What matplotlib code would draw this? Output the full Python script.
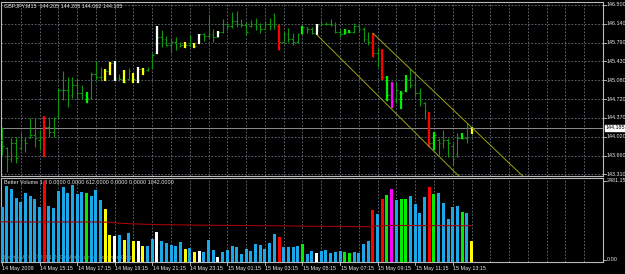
import numpy as np
import matplotlib.pyplot as plt

W, H = 625, 274
BAR_DX = 4.695   # pixels between bars
X0 = 2.0         # pixel x of the first bar

# ---- data (GBPJPY M15, 14 May 13:15 .. 15 May 14:15) ----
highs = [144.207, 143.831, 143.988, 144.019, 144.082, 144.019, 144.364, 144.364, 144.145, 144.408,
         144.396, 144.396, 144.930, 145.263, 145.137, 145.150, 145.099, 144.993, 144.867, 145.244,
         145.445, 145.338, 145.294, 145.432, 145.445, 145.200, 145.269, 145.307, 145.225, 145.338,
         145.307, 145.338, 145.589, 146.104, 146.029, 145.916, 145.872, 145.891, 145.809, 145.797,
         145.935, 145.778, 145.954, 145.966, 146.293, 146.041, 146.010, 146.236, 146.155, 146.374,
         146.393, 146.230, 146.186, 146.217, 146.249, 146.167, 146.205, 146.249, 146.356, 146.123,
         145.998, 146.060, 145.966, 145.979, 146.104, 146.092, 146.079, 146.142, 146.217, 146.186,
         146.236, 146.186, 146.041, 146.041, 146.029, 146.167, 146.111, 146.092, 145.998, 145.979,
         145.715, 145.671, 145.162, 145.055, 145.055, 144.886, 145.181, 145.288, 145.200, 144.930,
         144.679, 144.490, 144.113, 143.988, 144.145, 143.988, 143.906, 144.082, 144.094, 144.283,
         144.205]
lows = [143.674, 143.359, 143.548, 143.516, 143.768, 143.736, 143.988, 143.831, 143.768, 143.642,
        144.019, 144.019, 144.364, 144.710, 144.584, 144.741, 144.723, 144.723, 144.647, 144.723,
        145.087, 145.074, 145.074, 145.181, 145.074, 145.068, 145.024, 145.087, 145.037, 145.024,
        145.181, 145.263, 145.307, 145.570, 145.715, 145.727, 145.589, 145.652, 145.715, 145.696,
        145.702, 145.683, 145.759, 145.828, 145.872, 145.809, 145.891, 145.966, 146.029, 146.060,
        146.092, 146.092, 145.935, 146.092, 146.029, 145.966, 146.041, 146.029, 146.041, 145.652,
        145.778, 145.809, 145.746, 145.778, 145.947, 145.966, 145.947, 145.935, 146.104, 146.123,
        146.104, 145.966, 145.903, 145.954, 145.966, 145.966, 145.998, 145.809, 145.746, 145.526,
        145.338, 145.087, 144.697, 144.553, 144.647, 144.534, 144.867, 144.930, 144.773, 144.597,
        144.346, 143.831, 143.768, 143.674, 143.799, 143.642, 143.485, 143.642, 143.969, 143.893,
        144.062]
opens = [143.95, 143.80, 143.60, 143.90, 143.80, 143.95, 144.00, 144.05, 143.95, 144.00,
         144.20, 144.10, 144.40, 144.90, 144.90, 144.80, 145.00, 144.85, 144.80, 144.75,
         145.20, 145.15, 145.15, 145.25, 145.40, 145.12, 145.10, 145.10, 145.20, 145.10,
         145.30, 145.28, 145.32, 145.60, 145.90, 145.85, 145.75, 145.80, 145.72, 145.75,
         145.75, 145.75, 145.78, 145.95, 145.92, 145.95, 145.90, 146.00, 146.15, 146.10,
         146.20, 146.15, 146.13, 146.10, 146.15, 146.10, 146.05, 146.15, 146.10, 146.10,
         145.80, 145.95, 145.85, 145.80, 145.96, 146.08, 146.05, 145.98, 146.12, 146.15,
         146.15, 146.12, 146.00, 145.96, 146.00, 146.00, 146.10, 146.05, 145.85, 145.80,
         145.60, 145.65, 145.15, 144.80, 144.70, 144.85, 144.90, 145.10, 145.00, 144.85,
         144.65, 144.45, 143.90, 143.95, 143.90, 143.95, 143.85, 143.70, 144.00, 144.00,
         144.205]
closes = [143.85, 143.60, 143.90, 143.62, 143.95, 143.90, 144.05, 144.00, 144.00, 144.20,
          144.10, 144.35, 144.90, 144.90, 144.80, 145.00, 144.85, 144.80, 144.75, 145.20,
          145.15, 145.15, 145.25, 145.40, 145.10, 145.10, 145.05, 145.25, 145.10, 145.30,
          145.25, 145.30, 145.55, 145.90, 145.85, 145.75, 145.80, 145.70, 145.75, 145.75,
          145.90, 145.72, 145.95, 145.92, 145.95, 145.90, 146.00, 146.15, 146.10, 146.20,
          146.15, 146.13, 146.00, 146.15, 146.10, 146.05, 146.15, 146.10, 146.15, 145.80,
          145.95, 145.85, 145.80, 145.95, 146.08, 146.05, 145.98, 146.10, 146.15, 146.15,
          146.12, 146.00, 145.95, 146.00, 146.00, 146.10, 146.05, 145.85, 145.80, 145.60,
          145.65, 145.15, 144.80, 144.70, 144.90, 144.85, 145.10, 145.00, 144.85, 144.70,
          144.50, 143.90, 144.05, 143.90, 143.95, 143.90, 143.60, 144.00, 144.00, 144.20,
          144.185]
volumes = [1624, 2222, 2153, 1893, 1773, 2024, 1952, 1854, 1606, 2392,
           1645, 1576, 2093, 2192, 2024, 2251, 2003, 2054, 2024, 1952,
           2123, 1824, 1546, 798, 777, 798, 658, 858, 628, 628,
           457, 457, 679, 876, 628, 559, 499, 478, 598, 380,
           398, 299, 329, 299, 658, 359, 158, 299, 359, 478,
           428, 230, 380, 329, 529, 508, 380, 559, 828, 748,
           428, 428, 428, 478, 529, 230, 329, 260, 329, 359,
           278, 299, 329, 299, 278, 299, 278, 529, 628, 1525,
           1396, 1854, 1973, 2153, 1824, 1854, 1854, 1952, 1695, 1444,
           1923, 2192, 1994, 2024, 1743, 1256, 1606, 1653, 1465, 1444,
           612]
vol_ma = [1180, 1180, 1178, 1178, 1177, 1177, 1176, 1176, 1175, 1178,
          1177, 1176, 1176, 1177, 1176, 1177, 1176, 1176, 1176, 1175,
          1175, 1174, 1172, 1160, 1150, 1140, 1132, 1126, 1120, 1115,
          1110, 1106, 1103, 1100, 1098, 1096, 1094, 1092, 1090, 1088,
          1086, 1084, 1082, 1080, 1079, 1078, 1076, 1075, 1074, 1073,
          1072, 1071, 1070, 1069, 1068, 1067, 1066, 1065, 1064, 1062,
          1060, 1058, 1056, 1054, 1052, 1050, 1049, 1048, 1047, 1046,
          1045, 1044, 1043, 1042, 1041, 1040, 1039, 1038, 1037, 1050,
          1060, 1066, 1070, 1072, 1072, 1072, 1071, 1071, 1070, 1070,
          1069, 1069, 1068, 1068, 1067, 1067, 1066, 1066, 1065, 1065,
          1064]
# n normal, r climax, w climax low, y low volume, g churn, m climax churn
bar_class = ("nnnnnnnnn" "r" "nnnnnnnn" "g" "nnn" "yywnynywynnw" "nnnnn" "ynyw" "nnn" "w"
             "nnnnnnnnnnnn" "r" "nnnn" "g" "nn" "w" "nnnnn" "gg" "nnnn" "rnrgmngg" "nnnn"
             "rg" "nnnnn" "gny")

time_label_bars = [0, 8, 16, 24, 32, 40, 48, 56, 64, 72, 80, 88, 96]
time_labels = ["14 May 2009", "14 May 15:15", "14 May 17:15", "14 May 19:15", "14 May 21:15",
               "14 May 23:15", "15 May 01:15", "15 May 03:15", "15 May 05:15", "15 May 07:15",
               "15 May 09:15", "15 May 11:15", "15 May 13:15"]
price_levels = [143.310, 143.664, 144.019, 144.373, 144.728, 145.082, 145.436, 145.791, 146.145, 146.500]
price_labels = ["143.310", "143.660", "144.020", "144.370", "144.720", "145.080", "145.430",
                "145.790", "146.140", "146.500"]
last_price = 144.185
# channel lines: (start bar, start price, price change per bar)
channel = [(67.1, 145.935, -0.0880), (79.0, 145.967, -0.0843)]

vol_top_label = "2481.15"
vol_bottom_label = "0.00"
title = "GBPJPY,M15  144.205 144.205 144.062 144.185"
ind_title = "Better Volume 1.3 0.0000 0.0000 612.0000 0.0000 0.0000 1042.0000"
copyright_txt = "FxPro MT4, \u00a9 2001-2009 MetaQuotes Software Corp."

colors = {'n': '#1ba8e8', 'r': '#ff0000', 'w': '#ffffff', 'y': '#ffff00', 'g': '#00ee00', 'm': '#ff00ff'}
BAR_GREEN = '#0e960e'
GRID = '#6a747e'
FONT = 'Liberation Sans'
FS = 3.9

plt.rcParams['font.family'] = FONT

fig = plt.figure(figsize=(W / 100, H / 100), dpi=100, facecolor='black')


def px_axes(left, top, right, bottom):
    ax = fig.add_axes([left / W, 1 - bottom / H, (right - left) / W, (bottom - top) / H])
    ax.set_facecolor('black')
    ax.set_xticks([])
    ax.set_yticks([])
    for s in ax.spines.values():
        s.set_color('#b8b8b8')
        s.set_linewidth(0.8)
    return ax


def fx(px):
    return px / W


def fy(py):
    return 1 - py / H


n = len(highs)
x = np.arange(n)
xlim = ((1 - X0) / BAR_DX, (603 - X0) / BAR_DX)

# ---------------- main price panel ----------------
ax = px_axes(1, 2, 603, 176)
ax.set_xlim(*xlim)
ax.set_ylim(146.5 - 171 / 53.07, 146.5 + 3 / 53.07)

for gx in np.arange(4, 129, 4):
    ax.axvline(gx, color=GRID, lw=0.6, ls=(0, (2, 2)), zorder=1)
for lv in price_levels:
    ax.axhline(lv, color=GRID, lw=0.6, ls=(0, (2, 2)), zorder=1)
ax.axhline(last_price, color='#8c8c8c', lw=0.7, zorder=2)

ax.vlines(x, lows, highs, color=BAR_GREEN, lw=0.8, zorder=3)
ax.hlines(opens, x - 0.35, x, color=BAR_GREEN, lw=0.8, zorder=3)
ax.hlines(closes, x, x + 0.35, color=BAR_GREEN, lw=0.8, zorder=3)
for i, c in enumerate(bar_class):
    if c != 'n':
        ax.vlines(i, lows[i], highs[i], color=colors[c], lw=1.6, zorder=4)

for b0, p0, slope in channel:
    xs = np.array([b0, 135])
    ax.plot(xs, p0 + slope * (xs - b0), color='#a0a018', lw=0.7, zorder=5)

ax.text(3 / 602, 1 - 4 / 174, title, transform=ax.transAxes, color='#e8e8e8',
        fontsize=FS, va='center', ha='left', zorder=2)

for lv, lab in zip(price_levels, price_labels):
    yy = 5 + (146.5 - lv) * 53.07
    fig.add_artist(plt.Line2D([fx(603), fx(605.5)], [fy(yy), fy(yy)], color='#c8c8c8', lw=0.6))
    fig.text(fx(606.5), fy(yy), lab, color='#e8e8e8', fontsize=FS, va='center', ha='left')
yy = 5 + (146.5 - last_price) * 53.07
fig.text(fx(606), fy(yy), f"{last_price:.3f}", color='black', fontsize=FS, va='center', ha='left',
         bbox=dict(boxstyle='square,pad=0.15', fc='white', ec='white'))

# ---------------- volume panel ----------------
av = px_axes(1, 177.5, 603, 262)
av.set_xlim(*xlim)
av.set_ylim(0, 2481)
for gx in np.arange(4, 129, 4):
    av.axvline(gx, color=GRID, lw=0.6, ls=(0, (2, 2)), zorder=1)
av.bar(x, volumes, width=0.64, color=[colors[c] for c in bar_class], zorder=3)
av.plot(x, vol_ma, color='#a00000', lw=0.8, zorder=4)

# indicator texts sit underneath the histogram, as in the terminal
av.text(3 / 602, 1 - 5.5 / 84.5, ind_title, transform=av.transAxes, color='#e8e8e8',
        fontsize=FS, va='center', ha='left', zorder=2)
av.text(3 / 602, 5 / 84.5, copyright_txt, transform=av.transAxes, color='#9a9a9a',
        fontsize=FS, va='center', ha='left', zorder=2)
for lab, yy in ((vol_top_label, 181), (vol_bottom_label, 259.5)):
    fig.add_artist(plt.Line2D([fx(603), fx(605.5)], [fy(yy), fy(yy)], color='#c8c8c8', lw=0.6))
    fig.text(fx(606.5), fy(yy), lab, color='#e8e8e8', fontsize=FS, va='center', ha='left')

# ---------------- time axis ----------------
for b, lab in zip(time_label_bars, time_labels):
    px = X0 + b * BAR_DX
    fig.add_artist(plt.Line2D([fx(px), fx(px)], [fy(262), fy(265)], color='#c8c8c8', lw=0.6))
    fig.text(fx(px + 0.5), fy(268.5), lab, color='#e8e8e8', fontsize=FS, va='center', ha='left')

fig.savefig('out.png', dpi=100, facecolor='black')
